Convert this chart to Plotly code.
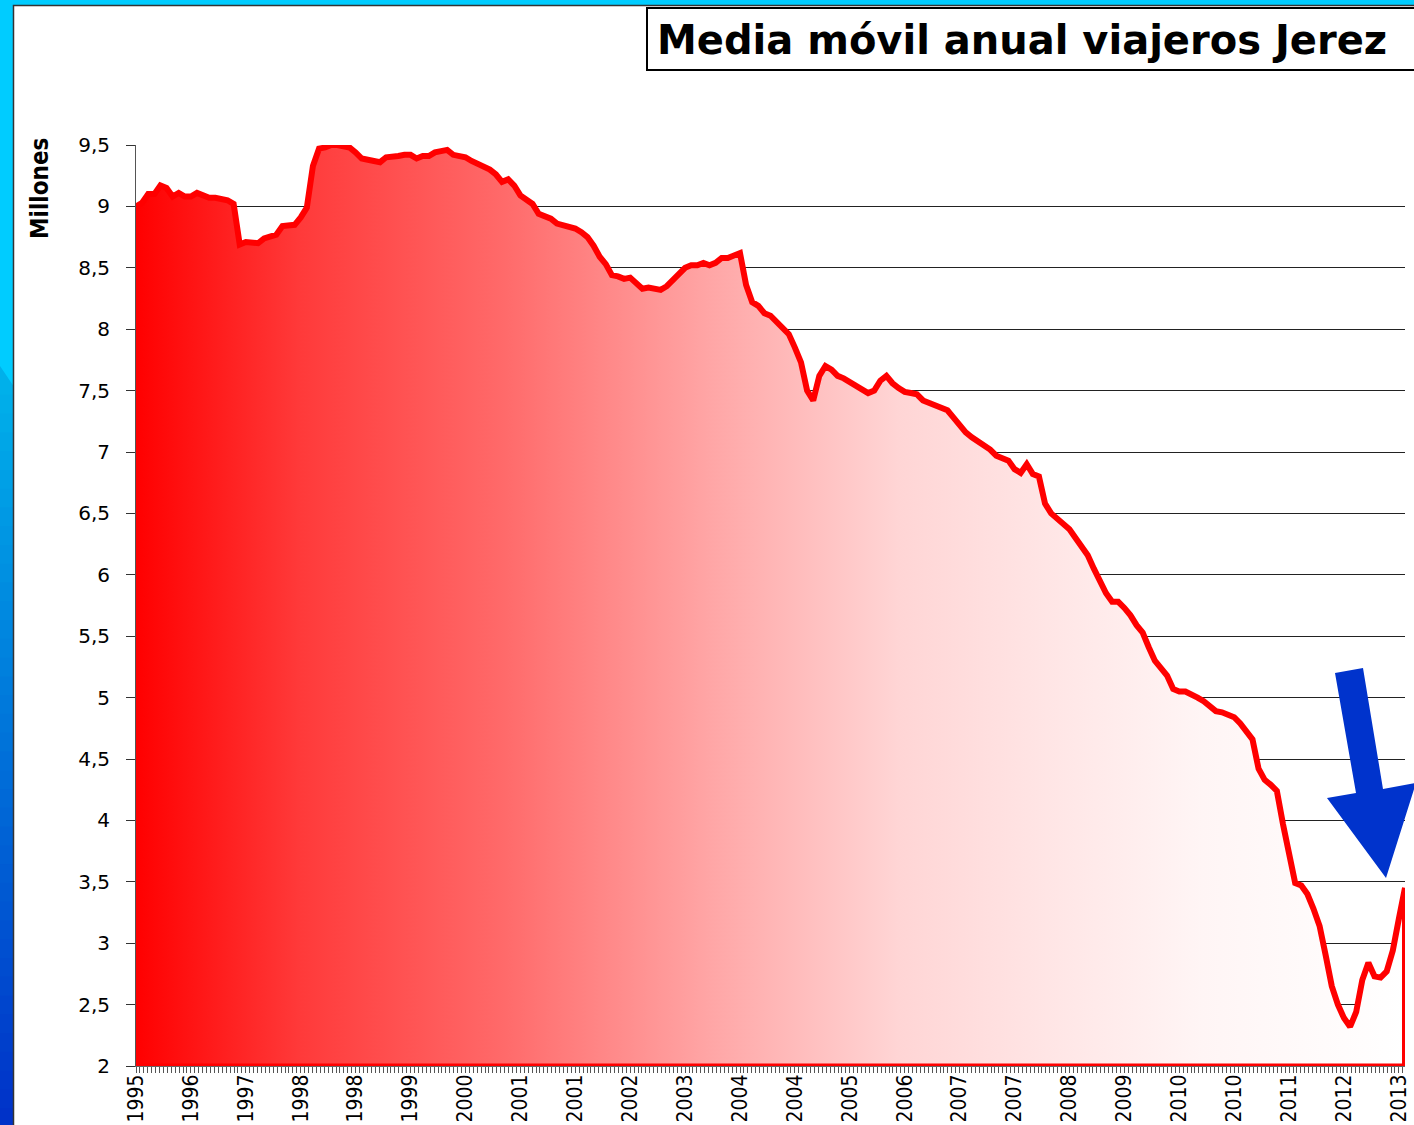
import plotly.graph_objects as go

# ---------------- data ----------------
viajeros = [
    9.00, 9.03, 9.10, 9.10, 9.17, 9.15, 9.08, 9.11, 9.08, 9.08,
    9.11, 9.09, 9.07, 9.07, 9.06, 9.05, 9.02, 8.69, 8.71, 8.70,
    8.70, 8.74, 8.76, 8.77, 8.84, 8.84, 8.85, 8.91, 8.99, 9.33,
    9.47, 9.48, 9.50, 9.50, 9.49, 9.48, 9.44, 9.39, 9.38, 9.37,
    9.36, 9.40, 9.40, 9.41, 9.42, 9.42, 9.39, 9.41, 9.41, 9.44,
    9.45, 9.46, 9.42, 9.41, 9.40, 9.37, 9.35, 9.32, 9.30, 9.26,
    9.20, 9.22, 9.17, 9.09, 9.06, 9.02, 8.94, 8.92, 8.90, 8.86,
    8.85, 8.84, 8.82, 8.79, 8.75, 8.68, 8.59, 8.53, 8.44, 8.43,
    8.41, 8.42, 8.38, 8.33, 8.34, 8.33, 8.32, 8.35, 8.40, 8.44,
    8.50, 8.52, 8.52, 8.54, 8.52, 8.54, 8.58, 8.58, 8.60, 8.62,
    8.36, 8.22, 8.19, 8.13, 8.11, 8.06, 8.01, 7.96, 7.85, 7.73,
    7.50, 7.42, 7.62, 7.70, 7.67, 7.62, 7.60, 7.57, 7.54, 7.50,
    7.48, 7.50, 7.58, 7.62, 7.56, 7.52, 7.49, 7.48, 7.47, 7.42,
    7.40, 7.38, 7.35, 7.34, 7.28, 7.21, 7.16, 7.12, 7.09, 7.05,
    7.02, 6.97, 6.95, 6.93, 6.86, 6.83, 6.90, 6.82, 6.80, 6.58,
    6.50, 6.46, 6.41, 6.37, 6.30, 6.23, 6.16, 6.05, 5.95, 5.85,
    5.78, 5.78, 5.73, 5.67, 5.59, 5.53, 5.41, 5.30, 5.24, 5.18,
    5.07, 5.05, 5.05, 5.03, 5.00, 4.97, 4.93, 4.89, 4.88, 4.86,
    4.84, 4.79, 4.73, 4.66, 4.42, 4.33, 4.29, 4.24, 3.97, 3.72,
    3.49, 3.47, 3.40, 3.28, 3.14, 2.90, 2.65, 2.50, 2.39, 2.32,
    2.44, 2.70, 2.84, 2.73, 2.72, 2.77, 2.94, 3.20, 3.45,
]

etiquetas_anio = [
    "1995", "1996", "1997", "1998", "1998", "1999", "2000", "2001",
    "2001", "2002", "2003", "2004", "2004", "2005", "2006", "2007",
    "2007", "2008", "2009", "2010", "2010", "2011", "2012", "2013",
]

ticks_y = [2, 2.5, 3, 3.5, 4, 4.5, 5, 5.5, 6, 6.5, 7, 7.5, 8, 8.5, 9, 9.5]

titulo = "Media móvil anual viajeros Jerez"
titulo_eje_y = "Millones"

# ---------------- geometry helpers ----------------
W, H = 1414, 1125
ML, MR, MT, MB = 136, 9, 145, 59
PW, PH = W - ML - MR, H - MT - MB


def fx(x):
    return (x - ML) / PW


def fy(y):
    return (H - MB - y) / PH


meses = list(range(len(viajeros)))
paso = 9
tickvals_x = meses[::paso][:len(etiquetas_anio)]
y_min, y_max = ticks_y[0], ticks_y[-1]

escala = [
    [0.0, "rgb(255,0,0)"], [0.13, "rgb(255,58,58)"], [0.29, "rgb(255,106,106)"],
    [0.45, "rgb(255,165,165)"], [0.60, "rgb(255,213,213)"], [0.68, "rgb(255,224,224)"],
    [0.84, "rgb(255,245,245)"], [1.0, "rgb(255,255,255)"],
]

fig = go.Figure()

# gradient area
fig.add_trace(go.Scatter(
    x=meses, y=viajeros, mode="none", fill="tozeroy",
    fillgradient=dict(type="horizontal", colorscale=escala),
    hoverinfo="skip", showlegend=False,
))
# bottom border of the area (half clipped like the original)
fig.add_trace(go.Scatter(
    x=[meses[0], meses[-1]], y=[y_min, y_min], mode="lines",
    line=dict(color="#FF0000", width=5), hoverinfo="skip", showlegend=False,
))
# top outline + right edge
fig.add_trace(go.Scatter(
    x=meses + [meses[-1]], y=viajeros + [y_min], mode="lines",
    line=dict(color="#FF0000", width=6), cliponaxis=False,
    hoverinfo="skip", showlegend=False,
))

shapes = []
# white panel
shapes.append(dict(type="rect", xref="paper", yref="paper",
                   x0=fx(13.5), x1=fx(W + 20), y0=fy(5.5), y1=fy(H + 20),
                   fillcolor="white", line=dict(width=0), layer="below"))
# blue gradient on the left border
c0 = (0, 176, 234)
c1 = (0, 50, 200)
ytop, ybot = 376, H + 2
nb = 40
for i in range(nb):
    t = i / (nb - 1)
    col = "rgb(%d,%d,%d)" % tuple(round(a + (b - a) * t) for a, b in zip(c0, c1))
    ya = ytop + (ybot - ytop) * i / nb
    yb = ytop + (ybot - ytop) * (i + 1) / nb + 1
    if i == 0:
        path = "M %f,%f L %f,%f L %f,%f L %f,%f Z" % (
            fx(0), fy(366), fx(13.5), fy(386), fx(13.5), fy(yb), fx(0), fy(yb))
        shapes.append(dict(type="path", xref="paper", yref="paper", path=path,
                           fillcolor=col, line=dict(width=0), layer="below"))
    else:
        shapes.append(dict(type="rect", xref="paper", yref="paper",
                           x0=fx(0), x1=fx(13.5), y0=fy(ya), y1=fy(yb),
                           fillcolor=col, line=dict(width=0), layer="below"))
# panel border
shapes.append(dict(type="path", xref="paper", yref="paper",
                   path="M %f,%f L %f,%f L %f,%f" % (fx(13.5), fy(H + 5), fx(13.5), fy(5.5), fx(W + 5), fy(5.5)),
                   line=dict(color="#333333", width=1.5), layer="below"))
# title box
shapes.append(dict(type="rect", xref="paper", yref="paper",
                   x0=fx(647), x1=fx(W + 20), y0=fy(8), y1=fy(70),
                   fillcolor="white", line=dict(color="black", width=2)))
# blue arrow
pts = [(1335, 673), (1363, 668), (1383, 789), (1416, 783), (1386, 878), (1327, 798), (1356, 793)]
path = "M " + " L ".join("%f,%f" % (fx(a), fy(b)) for a, b in pts) + " Z"
shapes.append(dict(type="path", xref="paper", yref="paper", path=path,
                   fillcolor="#0033CC", line=dict(width=0)))

annotations = [
    dict(text="<b>%s</b>" % titulo, xref="paper", yref="paper",
         x=fx(655), y=fy(40), xanchor="left", yanchor="middle", showarrow=False,
         font=dict(family="DejaVu Sans", size=40, color="black")),
    dict(text="<b>%s</b>" % titulo_eje_y, xref="paper", yref="paper",
         x=fx(40), y=fy(189), xanchor="center", yanchor="middle", showarrow=False,
         textangle=-90,
         font=dict(family="Liberation Sans Narrow, DejaVu Sans Condensed", size=24, color="black")),
]

fig.update_layout(
    width=W, height=H, autosize=False,
    margin=dict(l=ML, r=MR, t=MT, b=MB, pad=0, autoexpand=False),
    paper_bgcolor="#00CCFF", plot_bgcolor="rgba(0,0,0,0)",
    separators=",.",
    showlegend=False,
    shapes=shapes, annotations=annotations,
    xaxis=dict(
        range=[meses[0], meses[-1]], tickmode="array", tickvals=tickvals_x, ticktext=etiquetas_anio,
        tickangle=-90, ticks="outside", ticklen=6, tickwidth=1, tickcolor="#555555",
        ticklabelstandoff=-7, automargin=False, ticklabeloverflow="allow",
        tickfont=dict(family="Liberation Sans Narrow, DejaVu Sans Condensed", size=21, color="black"),
        showgrid=False, zeroline=False, showline=True, linecolor="#666666", linewidth=1,
        minor=dict(ticks="outside", ticklen=6, tickwidth=1, tickcolor="#555555", dtick=paso / 14, tick0=0, showgrid=False),
        fixedrange=True,
    ),
    yaxis=dict(
        range=[y_min, y_max], tickmode="array", tickvals=ticks_y,
        ticks="outside", ticklen=9, tickwidth=1, tickcolor="#333333",
        ticklabelstandoff=12, automargin=False,
        tickfont=dict(family="DejaVu Sans", size=20, color="black"),
        showgrid=True, gridcolor="#222222", gridwidth=1,
        zeroline=False, showline=True, linecolor="#555555", linewidth=1,
        fixedrange=True,
    ),
)

fig.write_html(
    "out.html",
    config={"displayModeBar": False},
    post_script="document.body.style.margin='0';document.body.style.padding='0';document.body.style.overflow='hidden';",
)
